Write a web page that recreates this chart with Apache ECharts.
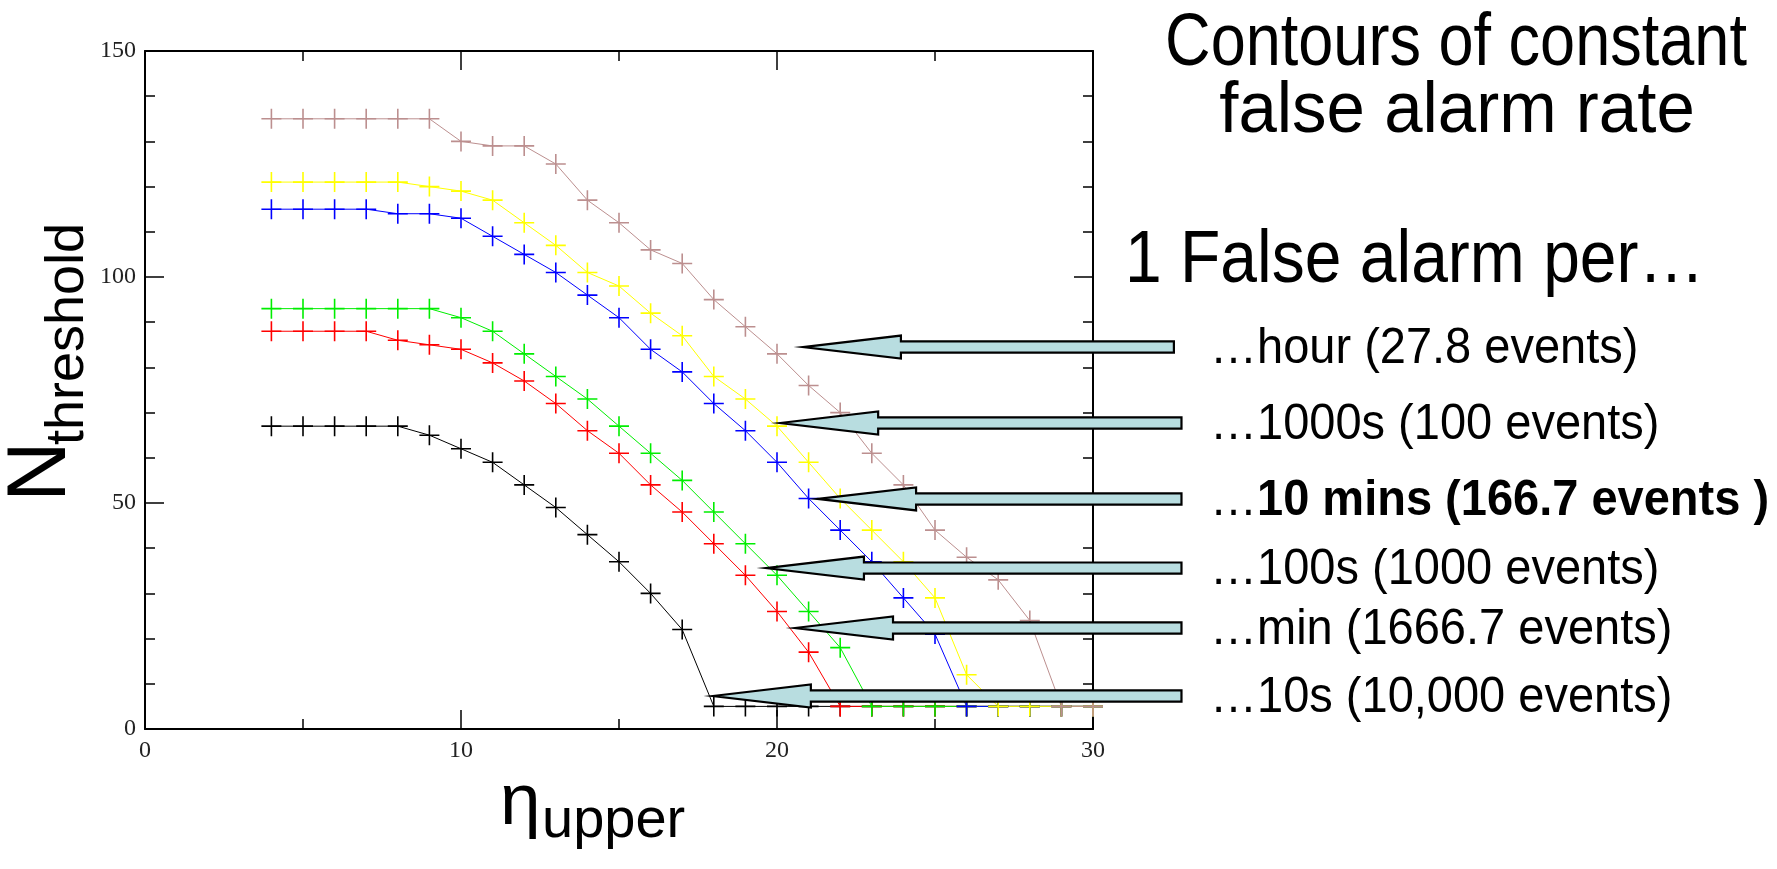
<!DOCTYPE html>
<html>
<head>
<meta charset="utf-8">
<script src="https://cdn.jsdelivr.net/npm/echarts@6/dist/echarts.min.js"></script>
<style>
  html, body { margin: 0; padding: 0; background: #fff; }
  #chart { width: 1777px; height: 869px; }
</style>
</head>
<body>
<div id="chart"></div>
<script>
// eta_upper values (x)
var etaUpper = [4, 5, 6, 7, 8, 9, 10, 11, 12, 13, 14, 15, 16, 17, 18, 19, 20, 21, 22, 23, 24, 25, 26, 27, 28, 29, 30];

// N_threshold contours, one per false alarm rate
var perTenSec  = [67, 67, 67, 67, 67, 65, 62, 59, 54, 49, 43, 37, 30, 22, 5, 5, 5, 5, 5, 5, 5, 5, 5, 5, 5, 5, 5];        // black
var perMin     = [88, 88, 88, 88, 86, 85, 84, 81, 77, 72, 66, 61, 54, 48, 41, 34, 26, 17, 5, 5, 5, 5, 5, 5, 5, 5, 5];     // red
var perHundred = [93, 93, 93, 93, 93, 93, 91, 88, 83, 78, 73, 67, 61, 55, 48, 41, 34, 26, 18, 5, 5, 5, 5, 5, 5, 5, 5];   // green
var perTenMin  = [115, 115, 115, 115, 114, 114, 113, 109, 105, 101, 96, 91, 84, 79, 72, 66, 59, 51, 44, 37, 29, 21, 5, 5, 5, 5, 5]; // blue
var perThous   = [121, 121, 121, 121, 121, 120, 119, 117, 112, 107, 101, 98, 92, 87, 78, 73, 67, 59, 51, 44, 37, 29, 12, 5, 5, 5, 5]; // yellow
var perHour    = [135, 135, 135, 135, 135, 135, 130, 129, 129, 125, 117, 112, 106, 103, 95, 89, 83, 76, 70, 61, 54, 44, 38, 33, 24, 5, 5]; // brown

var titleLines = ['Contours of constant', 'false alarm rate'];
var subTitle = '1 False alarm per\u2026';
var rateLabels = [
  '\u2026hour (27.8 events)',
  '\u20261000s (100 events)',
  '\u2026{b|10 mins (166.7 events )}',
  '\u2026100s (1000 events)',
  '\u2026min (1666.7 events)',
  '\u202610s (10,000 events)'
];

var chart = echarts.init(document.getElementById('chart'), null, { renderer: 'canvas' });

function pairs(ys) {
  return etaUpper.map(function (x, i) { return [x, ys[i]]; });
}

var plus = 'path://M10,0L10,20M0,10L20,10';
function contour(name, ys, color) {
  return {
    name: name,
    type: 'line',
    data: pairs(ys),
    symbol: plus,
    symbolSize: 20,
    showAllSymbol: true,
    lineStyle: { color: color, width: 1 },
    itemStyle: { color: color, borderColor: color, borderWidth: 1.6 },
    emphasis: { disabled: true },
    animation: false
  };
}

var tickFont = { fontFamily: 'Liberation Serif', fontSize: 24, color: '#222' };
function axisBase(extra) {
  var a = {
    type: 'value',
    axisLine: { show: true, onZero: false, lineStyle: { color: '#000', width: 2 } },
    axisTick: { show: true, inside: true, length: 19, lineStyle: { color: '#000', width: 1.5 } },
    splitLine: { show: false },
    minorSplitLine: { show: false }
  };
  for (var k in extra) a[k] = extra[k];
  return a;
}
function minor(n) {
  return { show: true, splitNumber: n, length: 10, lineStyle: { color: '#000', width: 1.5 } };
}

var option = {
  backgroundColor: '#fff',
  animation: false,
  grid: { left: 145, top: 51, width: 948, height: 678 },
  xAxis: [
    axisBase({ min: 0, max: 30, interval: 10, position: 'bottom', minorTick: minor(2),
      axisLabel: Object.assign({ margin: 10 }, tickFont) }),
    axisBase({ min: 0, max: 30, interval: 10, position: 'top', minorTick: minor(2),
      axisLabel: { show: false } })
  ],
  yAxis: [
    axisBase({ min: 0, max: 150, interval: 50, position: 'left', minorTick: minor(5),
      axisLabel: Object.assign({ margin: 9 }, tickFont) }),
    axisBase({ min: 0, max: 150, interval: 50, position: 'right', minorTick: minor(5),
      axisLabel: { show: false } })
  ],
  series: [
    contour('10s', perTenSec, '#000000'),
    contour('min', perMin, '#ff0000'),
    contour('100s', perHundred, '#00ee00'),
    contour('10 mins', perTenMin, '#0000ff'),
    contour('1000s', perThous, '#ffff00'),
    contour('hour', perHour, '#bc8f8f')
  ]
};
chart.setOption(option);

// arrows: tip in data units, tail x in data units (beyond the axis)
var arrowTips = [[20.82, 84.5], [20.1, 67.7], [21.3, 50.9], [19.65, 35.6], [20.57, 22.35], [17.97, 7.3]];
var arrowTailX = [32.56, 32.8, 32.8, 32.8, 32.8, 32.8];
var headLen = 98, headHalf = 11.5, shaftHalf = 5.6;

var sans = 'Liberation Sans';
var graphics = [];
arrowTips.forEach(function (t, i) {
  var p = chart.convertToPixel({ gridIndex: 0 }, t);
  var tail = chart.convertToPixel({ gridIndex: 0 }, [arrowTailX[i], t[1]])[0];
  var bx = p[0] + headLen, y = p[1];
  graphics.push({
    type: 'polygon', z: 100,
    shape: { points: [[p[0], y], [bx, y - headHalf], [bx, y - shaftHalf], [tail, y - shaftHalf],
                      [tail, y + shaftHalf], [bx, y + shaftHalf], [bx, y + headHalf]] },
    style: { fill: '#b8dde0', stroke: '#000', lineWidth: 2.2, lineJoin: 'miter' }
  });
  graphics.push({
    type: 'text', z: 100, x: 1210, y: y + 2, scaleY: 1.06,
    style: {
      text: rateLabels[i], fill: '#000', fontFamily: sans, fontSize: 47,
      align: 'left', verticalAlign: 'middle',
      rich: { b: { fontFamily: sans, fontSize: 47, fontWeight: 'bold', fill: '#000' } }
    }
  });
});

graphics.push(
  { type: 'text', z: 100, x: 1456, y: 44, scaleX: 0.97, scaleY: 1.15,
    style: { text: titleLines[0], fill: '#000', fontFamily: sans, fontSize: 65, align: 'center', verticalAlign: 'middle' } },
  { type: 'text', z: 100, x: 1457, y: 112, scaleY: 1.05,
    style: { text: titleLines[1], fill: '#000', fontFamily: sans, fontSize: 69, align: 'center', verticalAlign: 'middle' } },
  { type: 'text', z: 100, x: 1125, y: 262, scaleY: 1.12,
    style: { text: subTitle, fill: '#000', fontFamily: sans, fontSize: 66, align: 'left', verticalAlign: 'middle' } },
  // x axis name: eta_upper
  { type: 'text', z: 100, x: 500, y: 804,
    style: { text: '\u03b7', fill: '#000', fontFamily: sans, fontSize: 73, align: 'left', verticalAlign: 'middle' } },
  { type: 'text', z: 100, x: 542, y: 822,
    style: { text: 'upper', fill: '#000', fontFamily: sans, fontSize: 56, align: 'left', verticalAlign: 'middle' } },
  // y axis name: N_threshold, rotated
  { type: 'group', x: 0, y: 0, rotation: Math.PI / 2,
    children: [
      { type: 'text', z: 100, x: -502, y: 42,
        style: { text: 'N', fill: '#000', fontFamily: sans, fontSize: 84, align: 'left', verticalAlign: 'middle' } },
      { type: 'text', z: 100, x: -445, y: 68,
        style: { text: 'threshold', fill: '#000', fontFamily: sans, fontSize: 54, align: 'left', verticalAlign: 'middle' } }
    ] }
);

chart.setOption({ graphic: graphics });
</script>
</body>
</html>
